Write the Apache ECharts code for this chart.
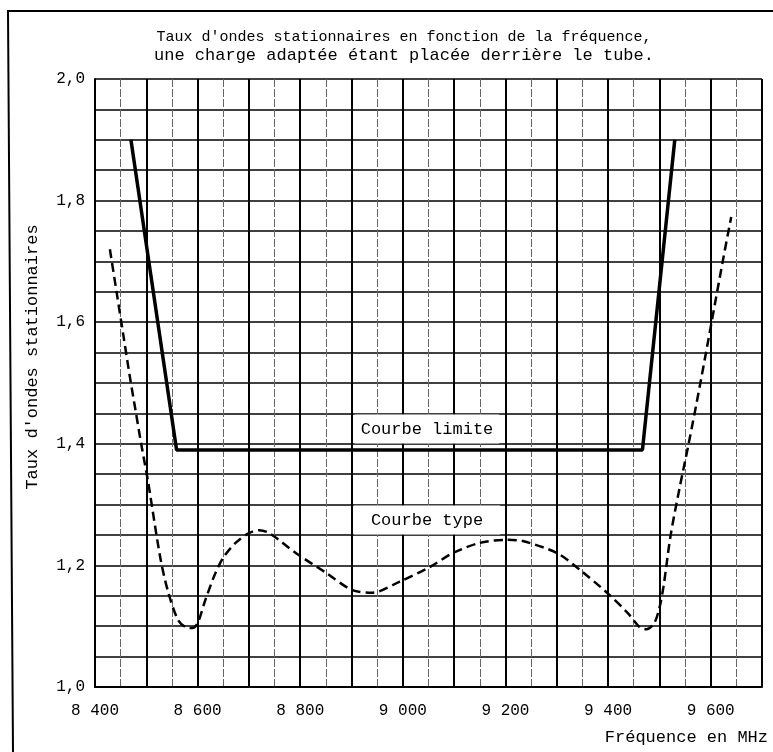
<!DOCTYPE html>
<html>
<head>
<meta charset="utf-8">
<script src="https://cdn.jsdelivr.net/npm/echarts@6/dist/echarts.min.js"></script>
<style>html,body{margin:0;padding:0;background:#fff;}#c{width:773px;height:752px;}</style>
</head>
<body>
<div id="c"></div>
<script>
// Courbe limite (solid)
var limitFreq = [8470, 8559, 9467, 9530];
var limitValue = [1.9, 1.39, 1.39, 1.9];
// Courbe type (dashed)
var typeFreq = [8429, 8442, 8455, 8468, 8480, 8490, 8504, 8517, 8529, 8543, 8562, 8578, 8590, 8600, 8615, 8635, 8651, 8674, 8700, 8720, 8740, 8792, 8850, 8900, 8940, 8993, 9052, 9097, 9150, 9203, 9234, 9301, 9346, 9398, 9438, 9462, 9475, 9490, 9500, 9508, 9522, 9540, 9557, 9581, 9625, 9640];
var typeValue = [1.72, 1.65, 1.58, 1.51, 1.45, 1.40, 1.335, 1.265, 1.205, 1.155, 1.11, 1.098, 1.097, 1.105, 1.143, 1.188, 1.214, 1.237, 1.253, 1.258, 1.253, 1.22, 1.188, 1.16, 1.155, 1.173, 1.197, 1.22, 1.237, 1.242, 1.24, 1.22, 1.192, 1.155, 1.122, 1.098, 1.095, 1.105, 1.13, 1.165, 1.25, 1.33, 1.40, 1.505, 1.707, 1.773];
// tick labels
var xTickValues = [8400, 8600, 8800, 9000, 9200, 9400, 9600];
var xTickLabels = ['8 400', '8 600', '8 800', '9 000', '9 200', '9 400', '9 600'];
var yTickValues = [1.0, 1.2, 1.4, 1.6, 1.8, 2.0];
var yTickLabels = ['1,0', '1,2', '1,4', '1,6', '1,8', '2,0'];

var titleLine1 = "Taux d'ondes stationnaires en fonction de la fréquence,";
var titleLine2 = "une charge adaptée étant placée derrière le tube.";
var yName = "Taux d'ondes stationnaires";
var xName = "Fréquence en MHz";
var limitLabel = "Courbe limite";
var typeLabel = "Courbe type";

function zip(a, b) { return a.map(function (v, i) { return [v, b[i]]; }); }

var MONO = '"Liberation Mono", "DejaVu Sans Mono", monospace';
var chart = echarts.init(document.getElementById('c'), null, {renderer: 'canvas'});
chart.setOption({
  backgroundColor: '#fff',
  animation: false,
  grid: {left: 95, right: 11, top: 79, bottom: 65, containLabel: false},
  xAxis: {
    type: 'value', min: 8400, max: 9700, interval: 100,
    axisLine: {show: true, lineStyle: {color: '#000', width: 2}},
    axisTick: {show: false},
    axisLabel: {
      margin: 16, color: '#000', fontFamily: MONO, fontSize: 16,
      formatter: function (v) {
        var i = xTickValues.indexOf(Math.round(v));
        return i >= 0 ? xTickLabels[i] : '';
      }
    },
    splitLine: {show: true, lineStyle: {color: '#000', width: 2}},
    minorTick: {show: false, splitNumber: 2},
    minorSplitLine: {show: true, lineStyle: {color: '#666', width: 1, type: [8, 2]}}
  },
  yAxis: {
    type: 'value', min: 1.0, max: 2.0, interval: 0.05,
    axisLine: {show: true, lineStyle: {color: '#000', width: 2}},
    axisTick: {show: false},
    axisLabel: {
      margin: 10, color: '#000', fontFamily: MONO, fontSize: 16,
      formatter: function (v) {
        for (var i = 0; i < yTickValues.length; i++) {
          if (Math.abs(yTickValues[i] - v) < 1e-6) return yTickLabels[i];
        }
        return '';
      }
    },
    splitLine: {show: true, lineStyle: {color: '#000', width: 1.5}}
  },
  series: [
    {
      name: limitLabel, type: 'line', data: zip(limitFreq, limitValue),
      showSymbol: false, symbol: 'none',
      lineStyle: {color: '#000', width: 3.5}, z: 5
    },
    {
      name: typeLabel, type: 'line', data: zip(typeFreq, typeValue),
      showSymbol: false, symbol: 'none', smooth: 0.3,
      lineStyle: {color: '#000', width: 2.5, type: [9, 5]}, z: 5
    }
  ],
  graphic: [
    {type: 'polyline', shape: {points: [[13, 752], [8, 11], [773, 11]]}, style: {stroke: '#000', lineWidth: 2, fill: null}},
    {type: 'text', x: 404, y: 37, style: {text: titleLine1, font: '15px ' + MONO, fill: '#000', align: 'center', verticalAlign: 'middle'}},
    {type: 'text', x: 404, y: 55, style: {text: titleLine2, font: '17px ' + MONO, fill: '#000', align: 'center', verticalAlign: 'middle'}},
    {type: 'text', x: 32, y: 357, rotation: Math.PI / 2, style: {text: yName, font: '17px ' + MONO, fill: '#000', align: 'center', verticalAlign: 'middle'}},
    {type: 'text', x: 768, y: 737, style: {text: xName, font: '17px ' + MONO, fill: '#000', align: 'right', verticalAlign: 'middle'}},
    {type: 'text', x: 427, y: 429, z: 10, style: {text: limitLabel, font: '17px ' + MONO, fill: '#000', align: 'center', verticalAlign: 'middle', backgroundColor: '#fff', padding: [6, 6]}},
    {type: 'text', x: 427, y: 520, z: 10, style: {text: typeLabel, font: '17px ' + MONO, fill: '#000', align: 'center', verticalAlign: 'middle', backgroundColor: '#fff', padding: [6, 17]}}
  ]
});
</script>
</body>
</html>
